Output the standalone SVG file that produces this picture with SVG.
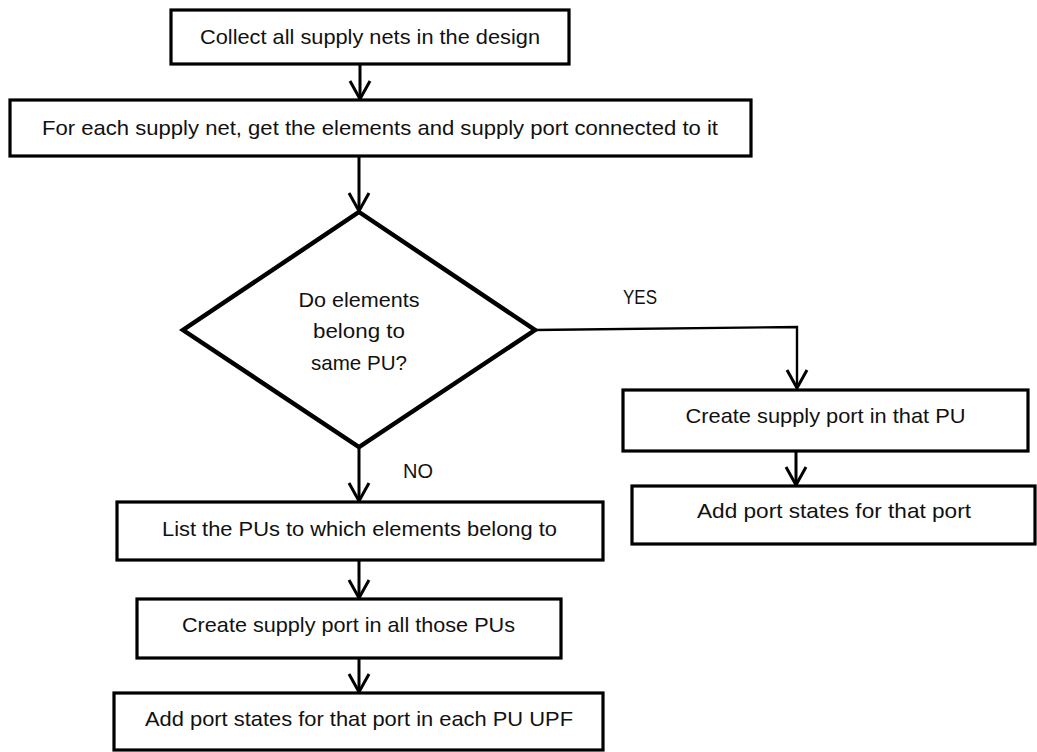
<svg xmlns="http://www.w3.org/2000/svg" width="1037" height="752" viewBox="0 0 1037 752">
  <style>
    .box { fill: #ffffff; stroke: #000000; stroke-width: 3.2; }
    .dia { fill: #ffffff; stroke: #000000; stroke-width: 4.5; stroke-linejoin: miter; }
    .lbl { font-family: "Liberation Sans", Arial, sans-serif; font-size: 21px; fill: #111111; text-anchor: middle; }
    .edge { fill: none; stroke: #000000; stroke-width: 3; }
    .thin { fill: none; stroke: #000000; stroke-width: 2.4; }
  </style>
  <defs>
    <marker id="vee" viewBox="0 0 24 24" refX="21" refY="12" markerWidth="24" markerHeight="24" markerUnits="userSpaceOnUse" orient="auto">
      <path d="M3,2 L21,12 L3,22" fill="none" stroke="#000000" stroke-width="3"/>
    </marker>
  </defs>
  <rect width="1037" height="752" fill="#ffffff"/>

  <g id="connectors">
    <line class="edge" x1="360" y1="64" x2="360" y2="99" marker-end="url(#vee)"/>
    <line class="edge" x1="359" y1="156" x2="359" y2="211" marker-end="url(#vee)"/>
    <polyline class="thin" points="535,330 797,327 797,388" marker-end="url(#vee)"/>
    <line class="edge" x1="359" y1="447" x2="359" y2="501" marker-end="url(#vee)"/>
    <line class="edge" x1="359" y1="560" x2="359" y2="598" marker-end="url(#vee)"/>
    <line class="edge" x1="359" y1="658" x2="359" y2="692" marker-end="url(#vee)"/>
    <line class="edge" x1="796" y1="451" x2="796" y2="485" marker-end="url(#vee)"/>
    <text class="lbl" x="640" y="304" textLength="34" lengthAdjust="spacingAndGlyphs">YES</text>
    <text class="lbl" x="418" y="478" textLength="30" lengthAdjust="spacingAndGlyphs">NO</text>
  </g>

  <g id="collect">
    <rect class="box" x="171" y="10" width="398" height="54"/>
    <text class="lbl" x="370" y="44" textLength="340" lengthAdjust="spacingAndGlyphs">Collect all supply nets in the design</text>
  </g>

  <g id="per-net">
    <rect class="box" x="10" y="100" width="741" height="56"/>
    <text class="lbl" x="380" y="135" textLength="676" lengthAdjust="spacingAndGlyphs">For each supply net, get the elements and supply port connected to it</text>
  </g>

  <g id="same-pu">
    <polygon class="dia" points="359,212 535,330 359,447 183,330"/>
    <text class="lbl" x="359" y="307" textLength="121" lengthAdjust="spacingAndGlyphs">Do elements</text>
    <text class="lbl" x="359" y="338" textLength="92" lengthAdjust="spacingAndGlyphs">belong to</text>
    <text class="lbl" x="359" y="370" textLength="96" lengthAdjust="spacingAndGlyphs">same PU?</text>
  </g>

  <g id="port-in-pu">
    <rect class="box" x="623" y="390" width="405" height="61"/>
    <text class="lbl" x="825.5" y="423" textLength="280" lengthAdjust="spacingAndGlyphs">Create supply port in that PU</text>
  </g>

  <g id="states-one">
    <rect class="box" x="632" y="486" width="403" height="58"/>
    <text class="lbl" x="834" y="518" textLength="274" lengthAdjust="spacingAndGlyphs">Add port states for that port</text>
  </g>

  <g id="list-pus">
    <rect class="box" x="117" y="502" width="486" height="58"/>
    <text class="lbl" x="359.5" y="536" textLength="395" lengthAdjust="spacingAndGlyphs">List the PUs to which elements belong to</text>
  </g>

  <g id="port-in-all">
    <rect class="box" x="137" y="599" width="424" height="59"/>
    <text class="lbl" x="348.5" y="632" textLength="333" lengthAdjust="spacingAndGlyphs">Create supply port in all those PUs</text>
  </g>

  <g id="states-each">
    <rect class="box" x="114" y="693" width="489" height="57"/>
    <text class="lbl" x="359" y="726" textLength="428" lengthAdjust="spacingAndGlyphs">Add port states for that port in each PU UPF</text>
  </g>
</svg>
